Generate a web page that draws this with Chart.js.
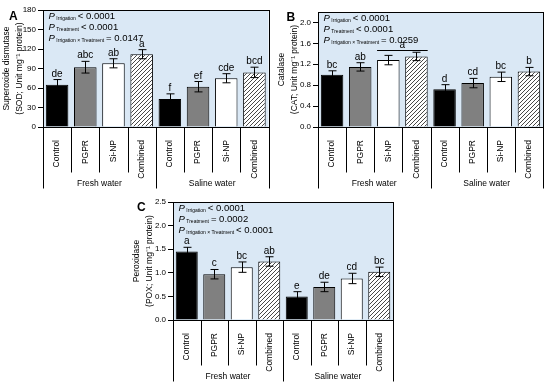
<!DOCTYPE html>
<html>
<head>
<meta charset="utf-8">
<script src="https://cdn.jsdelivr.net/npm/chart.js@4.4.1/dist/chart.umd.min.js"></script>
<style>
  html, body { margin: 0; padding: 0; background: #fff; }
  #wrap { position: relative; width: 550px; height: 385px; }
  canvas { position: absolute; }
</style>
</head>
<body>
<div id="wrap">
  <canvas id="chartA" width="275" height="192" style="left:0;top:0"></canvas>
  <canvas id="chartB" width="275" height="192" style="left:275px;top:0"></canvas>
  <canvas id="chartC" width="290" height="193" style="left:130px;top:192px"></canvas>
</div>
<script>
// data
const treatments = ['Control', 'PGPR', 'Si-NP', 'Combined'];
const waterGroups = ['Fresh water', 'Saline water'];
const categories = treatments.concat(treatments);

const sodMeans = [65, 92, 98, 112, 43, 62, 75, 84];
const sodErrors = [8, 9, 7, 7, 8, 8, 7, 8];
const sodLetters = ['de', 'abc', 'ab', 'a', 'f', 'ef', 'cde', 'bcd'];
const sodP = [['Irrigation', '< 0.0001'], ['Treatment', '< 0.0001'], ['Irrigation \u00d7 Treatment', '= 0.0147']];

const catMeans = [1.0, 1.15, 1.28, 1.35, 0.72, 0.84, 0.96, 1.06];
const catErrors = [0.075, 0.08, 0.09, 0.08, 0.09, 0.09, 0.09, 0.08];
const catLetters = ['bc', 'ab', '', '', 'd', 'cd', 'bc', 'b'];
const catSpan = { from: 2, to: 3, level: 1.47, text: 'a' }; // shared letter over Si-NP + Combined
const catP = [['Irrigation', '< 0.0001'], ['Treatment', '< 0.0001'], ['Irrigation \u00d7 Treatment', '= 0.0259']];

const poxMeans = [1.45, 0.97, 1.12, 1.24, 0.50, 0.70, 0.88, 1.02];
const poxErrors = [0.09, 0.10, 0.11, 0.10, 0.10, 0.10, 0.11, 0.10];
const poxLetters = ['a', 'c', 'bc', 'ab', 'e', 'de', 'cd', 'bc'];
const poxP = [['Irrigation', '< 0.0001'], ['Treatment', '= 0.0002'], ['Irrigation \u00d7 Treatment', '< 0.0001']];

const FONT = '"Liberation Sans", Arial, sans-serif';
const plotBlue = '#dae8f5';

// hatch for the "Combined" bars
function hatch() {
    let c = document.createElement('canvas');
    c.width = 4; c.height = 4;
    let g = c.getContext('2d');
    g.fillStyle = '#fff';
    g.fillRect(0, 0, 4, 4);
    g.strokeStyle = '#333';
    g.lineWidth = 0.9;
    g.beginPath();
    g.moveTo(0, 4); g.lineTo(4, 0);
    g.moveTo(-1, 1); g.lineTo(1, -1);
    g.moveTo(3, 5); g.lineTo(5, 3);
    g.stroke();
    return g.createPattern(c, 'repeat');
}
const barFill = ['#000', '#808080', '#fff', hatch()];

const panelPlugin = {
    id: 'panel',
    beforeDraw(chart) {
        let a = chart.chartArea, ctx = chart.ctx;
        ctx.save();
        ctx.fillStyle = plotBlue;
        ctx.fillRect(a.left, a.top, a.right - a.left, a.bottom - a.top);
        ctx.restore();
    },
    afterDatasetsDraw(chart) {
        let ctx = chart.ctx, y = chart.scales.y;
        let ds = chart.data.datasets[0];
        let meta = chart.getDatasetMeta(0);
        ctx.save();
        ctx.strokeStyle = '#000';
        ctx.lineWidth = 1;
        ctx.fillStyle = '#000';
        ctx.font = '10px ' + FONT;
        ctx.textAlign = 'center';
        meta.data.forEach((bar, i) => {
            let x = Math.round(bar.x) + 0.5;
            let top = y.getPixelForValue(ds.data[i] + ds.errors[i]);
            let bot = y.getPixelForValue(ds.data[i] - ds.errors[i]);
            ctx.beginPath();
            ctx.moveTo(x, top); ctx.lineTo(x, bot);
            ctx.moveTo(x - 4, top); ctx.lineTo(x + 4, top);
            ctx.moveTo(x - 4, bot); ctx.lineTo(x + 4, bot);
            ctx.stroke();
            if (ds.letters[i]) ctx.fillText(ds.letters[i], bar.x, top - 3);
        });
        let span = chart.options.plugins.panel.span;
        if (span) {
            let b1 = meta.data[span.from], b2 = meta.data[span.to];
            let ly = Math.round(y.getPixelForValue(span.level)) + 0.5;
            ctx.beginPath();
            ctx.moveTo(b1.x - b1.width / 2, ly);
            ctx.lineTo(b2.x + b2.width / 2, ly);
            ctx.stroke();
            ctx.fillText(span.text, (b1.x + b2.x) / 2, ly - 2.5);
        }
        ctx.restore();
    },
    afterDraw(chart) {
        let ctx = chart.ctx, a = chart.chartArea;
        let opts = chart.options.plugins.panel;
        let L = Math.round(a.left) + 0.5, R = Math.round(a.right) + 0.5;
        let T = Math.round(a.top) + 0.5, B = Math.round(a.bottom) + 0.5;
        ctx.save();
        ctx.strokeStyle = '#000';
        ctx.lineWidth = 1;
        ctx.strokeRect(L, T, R - L, B - T);

        // separators under the axis, longer ones split the two water groups
        let w = (a.right - a.left) / 8;
        for (let i = 0; i <= 8; i++) {
            let px = Math.round(a.left + i * w) + 0.5;
            let len = i % 4 === 0 ? 61 : 45;
            ctx.beginPath();
            ctx.moveTo(px, B);
            ctx.lineTo(px, B + len);
            ctx.stroke();
        }
        ctx.fillStyle = '#000';
        ctx.font = '8.5px ' + FONT;
        ctx.textAlign = 'center';
        ctx.textBaseline = 'middle';
        waterGroups.forEach((g, k) => ctx.fillText(g, a.left + (k * 4 + 2) * w, B + 56));

        // P values
        ctx.textAlign = 'left';
        ctx.textBaseline = 'alphabetic';
        let rowY = [9, 19.5, 30.5];
        opts.pRows.forEach((r, k) => {
            let x = a.left + 5.5, yb = a.top + rowY[k];
            ctx.font = 'italic 9.5px ' + FONT;
            ctx.fillText('P', x, yb);
            x += ctx.measureText('P').width + 1.5;
            ctx.font = '5px ' + FONT;
            ctx.fillText(r[0], x, yb + 1);
            x += ctx.measureText(r[0]).width + 2;
            ctx.font = '9.5px ' + FONT;
            ctx.fillText(r[1], x, yb);
        });

        // panel letter
        ctx.font = 'bold 12px ' + FONT;
        ctx.fillText(opts.letter, opts.letterX, opts.letterY);
        ctx.restore();
    }
};

function makePanel(id, p) {
    return new Chart(document.getElementById(id), {
        type: 'bar',
        data: {
            labels: categories,
            datasets: [{
                data: p.means,
                errors: p.errors,
                letters: p.letters,
                backgroundColor: categories.map((c, i) => barFill[i % 4]),
                borderColor: '#000',
                borderWidth: 1,
                barPercentage: 1,
                categoryPercentage: 0.8
            }]
        },
        options: {
            responsive: false,
            animation: false,
            layout: { padding: { top: p.top, right: p.right, left: 0, bottom: 0 } },
            plugins: {
                legend: { display: false },
                tooltip: { enabled: false },
                panel: { pRows: p.pRows, letter: p.letter, letterX: p.letterX, letterY: p.letterY, span: p.span }
            },
            scales: {
                x: {
                    grid: { display: false },
                    border: { display: false },
                    ticks: { autoSkip: false, minRotation: 90, maxRotation: 90, padding: 5, color: '#000', font: { family: FONT, size: 8.5 } },
                    afterFit: s => { s.height = 65; }
                },
                y: {
                    min: 0,
                    max: p.max,
                    grid: { drawOnChartArea: false, tickLength: 5, color: '#000' },
                    border: { display: false },
                    ticks: {
                        stepSize: p.step,
                        includeBounds: false,
                        padding: 2,
                        color: '#000',
                        font: { family: FONT, size: 8 },
                        callback: v => p.digits ? v.toFixed(p.digits) : v
                    },
                    title: {
                        display: true,
                        text: p.title,
                        color: '#000',
                        font: { family: FONT, size: 8.5, lineHeight: 13 / 8.5 },
                        padding: 0
                    },
                    afterFit: s => { s.width = 43; }
                }
            }
        },
        plugins: [panelPlugin]
    });
}

makePanel('chartA', {
    means: sodMeans, errors: sodErrors, letters: sodLetters, pRows: sodP,
    max: 180, step: 30, digits: 0, top: 10, right: 6.5,
    title: ['Superoxide dismutase', '(SOD; Unit mg\u207b\u00b9 protein)'],
    letter: 'A', letterX: 9, letterY: 20
});
makePanel('chartB', {
    means: catMeans, errors: catErrors, letters: catLetters, pRows: catP, span: catSpan,
    max: 2.2, step: 0.4, digits: 1, top: 12, right: 7,
    title: ['Catalase', '(CAT; Unit mg\u207b\u00b9 protein)'],
    letter: 'B', letterX: 11.5, letterY: 21
});
makePanel('chartC', {
    means: poxMeans, errors: poxErrors, letters: poxLetters, pRows: poxP,
    max: 2.5, step: 0.5, digits: 1, top: 10, right: 27,
    title: ['Peroxidase', '(POX; Unit mg\u207b\u00b9 protein)'],
    letter: 'C', letterX: 7, letterY: 19
});
</script>
</body>
</html>
